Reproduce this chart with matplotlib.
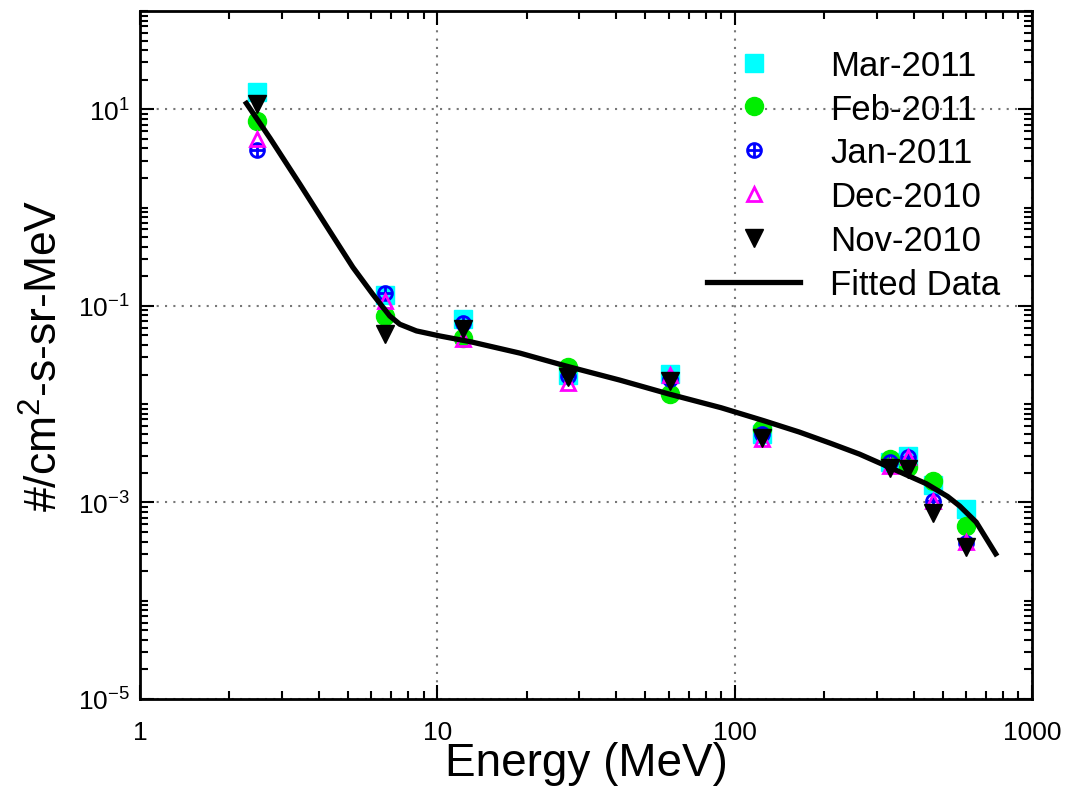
import matplotlib
matplotlib.use("Agg")
import matplotlib.pyplot as plt
import numpy as np
from matplotlib.path import Path
from matplotlib.ticker import FixedLocator, LogLocator, NullFormatter, FuncFormatter

plt.rcParams['font.family'] = ['Liberation Sans', 'DejaVu Sans']
plt.rcParams['mathtext.fontset'] = 'custom'
plt.rcParams['mathtext.rm'] = 'Liberation Sans'

# DATEN
energie = [2.47, 6.66, 12.2, 27.5, 60.4, 124, 332, 382, 463, 598]

mar2011 = [15.0, 0.130, 0.073, 0.020, 0.0201, 0.0050, 0.0026, 0.00297, 0.00150, 0.000853]
feb2011 = [7.6, 0.0789, 0.0475, 0.0236, 0.0126, 0.00556, 0.00275, 0.0023, 0.00166, 0.000577]
jan2011 = [3.9, 0.136, 0.0672, 0.0194, 0.0180, 0.00494, 0.00255, 0.0029, 0.00104, 0.000391]
dec2010 = [4.95, 0.112, 0.0457, 0.0166, 0.0200, 0.00440, 0.00235, 0.0029, 0.00104, 0.000400]
nov2010 = [11.2, 0.0514, 0.0578, 0.0187, 0.0172, 0.00457, 0.00226, 0.00218, 0.000788, 0.000348]

# Fitkurve
fitE = [2.28, 2.74, 3.45, 4.35, 5.2, 6.07, 6.92, 7.48, 8.51, 10.2, 13.0, 19.0, 27.0,
        41.0, 60.0, 90.0, 125, 165, 210, 263, 340, 441, 520, 571, 649, 755]
fitF = [11.5, 5.07, 1.73, 0.574, 0.247, 0.131, 0.0789, 0.065, 0.0556, 0.0494, 0.0430,
        0.0330, 0.0245, 0.0176, 0.0127, 0.0092, 0.0068, 0.0052, 0.0040, 0.0031, 0.0022,
        0.00155, 0.00115, 0.00092, 0.00063, 0.00030]

# Kreis mit Kreuz fuer Jan-2011
kreis = Path.unit_circle()
kreuz = Path([(-1, 0), (1, 0), (0, -1), (0, 1)],
             [Path.MOVETO, Path.LINETO, Path.MOVETO, Path.LINETO])
kreisKreuz = Path.make_compound_path(kreis, kreuz)

# PLOT
fig = plt.figure(figsize=(10.7, 8.03), dpi=100)
ax = fig.add_axes([0.1308, 0.1283, 0.8337, 0.8567])

ax.plot(energie, mar2011, ls="none", marker="s", ms=12.5, color="#00ffff", label="Mar-2011")
ax.plot(energie, feb2011, ls="none", marker="o", ms=13, color="#00ee00", label="Feb-2011")
ax.plot(energie, jan2011, ls="none", marker=kreisKreuz, ms=10, mew=2, color="#0000ff",
        mfc="none", label="Jan-2011")
ax.plot(energie, dec2010, ls="none", marker="^", ms=10.5, mew=2, color="#ff00ff",
        mfc="none", label="Dec-2010")
ax.plot(energie, nov2010, ls="none", marker="v", ms=12.5, color="black", label="Nov-2010")
ax.plot(fitE, fitF, color="black", lw=3.8, label="Fitted Data")

ax.set_xscale("log")
ax.set_yscale("log")
ax.set_xlim(1, 1000)
ax.set_ylim(1e-5, 1e2)

ax.yaxis.set_major_locator(FixedLocator([1e-5, 1e-3, 1e-1, 1e1]))
ax.yaxis.set_minor_locator(LogLocator(base=10, subs=np.arange(1, 10), numticks=20))
ax.yaxis.set_minor_formatter(NullFormatter())
ax.yaxis.set_major_formatter(FuncFormatter(lambda v, p: r"$\mathregular{10^{%d}}$" % round(np.log10(v))))
ax.xaxis.set_major_formatter(FuncFormatter(lambda v, p: "%d" % round(v)))
ax.xaxis.set_minor_formatter(NullFormatter())

ax.tick_params(which="both", direction="in", top=True, right=True, labelsize=19, width=1.5)
ax.tick_params(which="major", length=10)
ax.tick_params(which="minor", length=6)
ax.tick_params(axis="x", which="major", pad=15)
ax.tick_params(axis="y", which="major", pad=7)
for s in ax.spines.values():
    s.set_linewidth(2)

ax.grid(True, which="major", ls=(0, (1, 3)), color="#777777", lw=1.5)

ax.set_xlabel("Energy (MeV)", fontsize=33, labelpad=-2)
ax.set_ylabel("#/cm$^{\\mathregular{2}}$-s-sr-MeV", fontsize=32, labelpad=8)

ax.legend(loc="upper left", bbox_to_anchor=(0.636, 0.945), frameon=False, fontsize=25,
          handlelength=2.67, handletextpad=0.87, labelspacing=0.31, borderpad=0,
          borderaxespad=0)

fig.savefig("out.png", dpi=100)
